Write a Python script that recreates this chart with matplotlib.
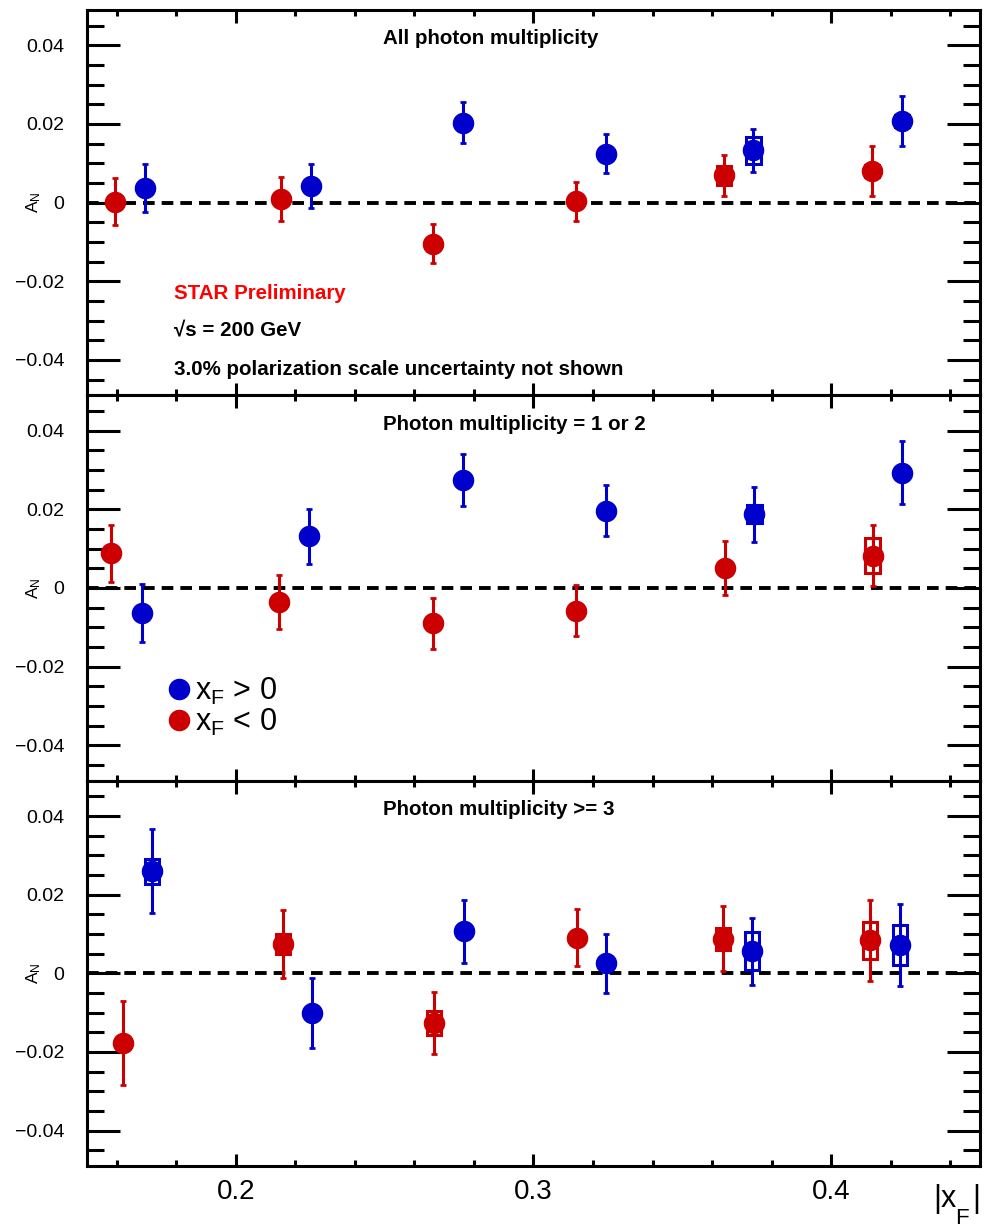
import matplotlib
matplotlib.use("Agg")
import matplotlib.pyplot as plt
from matplotlib.patches import Rectangle
from matplotlib.lines import Line2D
from matplotlib.ticker import MultipleLocator

plt.rcParams['font.family'] = ['Liberation Sans', 'DejaVu Sans']
plt.rcParams['mathtext.fontset'] = 'custom'
plt.rcParams['mathtext.rm'] = 'Liberation Sans'
plt.rcParams['mathtext.it'] = 'Liberation Sans'

titles = ['All photon multiplicity', 'Photon multiplicity = 1 or 2', 'Photon multiplicity >= 3']

# x_F < 0 (red)
red_x = [[0.1594, 0.2151, 0.2663, 0.3144, 0.3639, 0.4137],
         [0.1583, 0.2147, 0.2662, 0.3144, 0.3642, 0.4139],
         [0.1622, 0.2158, 0.2667, 0.3146, 0.3636, 0.4131]]
red_y = [[0.0002, 0.0010, -0.0105, 0.0003, 0.0069, 0.0080],
         [0.0088, -0.0036, -0.0090, -0.0058, 0.0050, 0.0082],
         [-0.0177, 0.0074, -0.0126, 0.0091, 0.0088, 0.0084]]
red_err = [[0.0060, 0.0056, 0.0050, 0.0049, 0.0053, 0.0063],
           [0.0072, 0.0069, 0.0064, 0.0065, 0.0069, 0.0077],
           [0.0106, 0.0087, 0.0078, 0.0073, 0.0083, 0.0103]]
red_sys = [[0.0010, 0.0010, 0.0010, 0.0010, 0.0024, 0.0015],
           [0.0010, 0.0010, 0.0010, 0.0010, 0.0010, 0.0045],
           [0.0010, 0.0025, 0.0030, 0.0010, 0.0028, 0.0047]]

# x_F > 0 (blue)
blue_x = [[0.1695, 0.2252, 0.2764, 0.3245, 0.3739, 0.4237],
          [0.1685, 0.2247, 0.2762, 0.3245, 0.3742, 0.4239],
          [0.1720, 0.2257, 0.2766, 0.3245, 0.3735, 0.4232]]
blue_y = [[0.0037, 0.0041, 0.0203, 0.0124, 0.0133, 0.0207],
          [-0.0064, 0.0132, 0.0274, 0.0196, 0.0187, 0.0293],
          [0.0260, -0.0101, 0.0107, 0.0026, 0.0056, 0.0072]]
blue_err = [[0.0062, 0.0056, 0.0052, 0.0050, 0.0055, 0.0064],
            [0.0074, 0.0070, 0.0066, 0.0065, 0.0070, 0.0080],
            [0.0107, 0.0088, 0.0080, 0.0075, 0.0085, 0.0105]]
blue_sys = [[0.0010, 0.0010, 0.0010, 0.0010, 0.0034, 0.0015],
            [0.0010, 0.0010, 0.0010, 0.0010, 0.0023, 0.0010],
            [0.0032, 0.0010, 0.0010, 0.0010, 0.0048, 0.0050]]

RED = '#cc0000'
BLUE = '#0000cc'
box_hw = 0.0024

fig, axes = plt.subplots(3, 1, figsize=(9.86, 12.3), dpi=100, sharex=True)
fig.subplots_adjust(left=0.088, right=0.994, top=0.992, bottom=0.052, hspace=0)


def draw_series(ax, xs, ys, es, ss, color):
    for x, y, s in zip(xs, ys, ss):
        ax.add_patch(Rectangle((x - box_hw, y - s), 2 * box_hw, 2 * s, fill=False,
                               edgecolor=color, linewidth=2.2, zorder=3))
    ax.errorbar(xs, ys, yerr=es, fmt='o', color=color, markersize=14.5, elinewidth=2.2,
                capsize=2.5, capthick=2, zorder=4)


for i, ax in enumerate(axes):
    ax.set_xlim(0.15, 0.45)
    ax.set_ylim(-0.049, 0.049)
    ax.axhline(0, color='black', linestyle=(0, (3, 1.8)), linewidth=2.8, zorder=2)
    draw_series(ax, red_x[i], red_y[i], red_err[i], red_sys[i], RED)
    draw_series(ax, blue_x[i], blue_y[i], blue_err[i], blue_sys[i], BLUE)

    for sp in ax.spines.values():
        sp.set_linewidth(2.2)
    ax.yaxis.set_major_locator(MultipleLocator(0.02))
    ax.yaxis.set_minor_locator(MultipleLocator(0.005))
    ax.xaxis.set_major_locator(MultipleLocator(0.1))
    ax.xaxis.set_minor_locator(MultipleLocator(0.02))
    ax.tick_params(axis='y', which='major', direction='in', length=24, width=2.2,
                   left=True, right=True, labelsize=14, pad=16)
    ax.tick_params(axis='y', which='minor', direction='in', length=12, width=2.2,
                   left=True, right=True)
    ax.tick_params(axis='x', which='major', direction='in', length=9, width=2.2,
                   top=True, bottom=True, labelsize=20, pad=9)
    ax.tick_params(axis='x', which='minor', direction='in', length=4.5, width=2.2,
                   top=True, bottom=True)
    ax.yaxis.set_major_formatter(matplotlib.ticker.FuncFormatter(
        lambda v, p: '0' if abs(v) < 1e-9 else ('%.2f' % v).replace('-', '\u2212')))
    ax.xaxis.set_major_formatter(matplotlib.ticker.FormatStrFormatter('%.1f'))
    ax.set_ylabel(r'A$_\mathregular{N}$', fontsize=12.5)
    ax.yaxis.set_label_coords(-0.049, 0.5)

    ax.text(0.3315, 0.925, titles[i], transform=ax.transAxes, fontsize=14.8,
            fontweight='bold', ha='left', va='center')

axes[0].text(0.098, 0.265, 'STAR Preliminary', transform=axes[0].transAxes, color='#ff0000',
             fontsize=14.8, fontweight='bold', va='center')
axes[0].text(0.098, 0.167, '\u221as = 200 GeV', transform=axes[0].transAxes,
             fontsize=14.8, fontweight='bold', va='center')
axes[0].text(0.098, 0.066, '3.0% polarization scale uncertainty not shown',
             transform=axes[0].transAxes, fontsize=14.8, fontweight='bold', va='center')

handles = [Line2D([], [], marker='o', color=BLUE, linestyle='none', markersize=14.5),
           Line2D([], [], marker='o', color=RED, linestyle='none', markersize=14.5)]
axes[1].legend(handles, [r'x$_\mathregular{F}$ > 0', r'x$_\mathregular{F}$ < 0'],
               loc='upper left', bbox_to_anchor=(0.072, 0.312), frameon=False, fontsize=22,
               handlelength=0.8, handletextpad=0.15, labelspacing=0.0, borderpad=0)

# x axis title |x_F| with low subscript, as in the original
fig.text(0.947, 0.0185, '|x', fontsize=22, ha='left', va='baseline')
fig.text(0.994, 0.0185, '|', fontsize=22, ha='right', va='baseline')
fig.text(0.976, 0.0045, 'F', fontsize=16, ha='center', va='baseline')

fig.savefig('out.png', dpi=100)
